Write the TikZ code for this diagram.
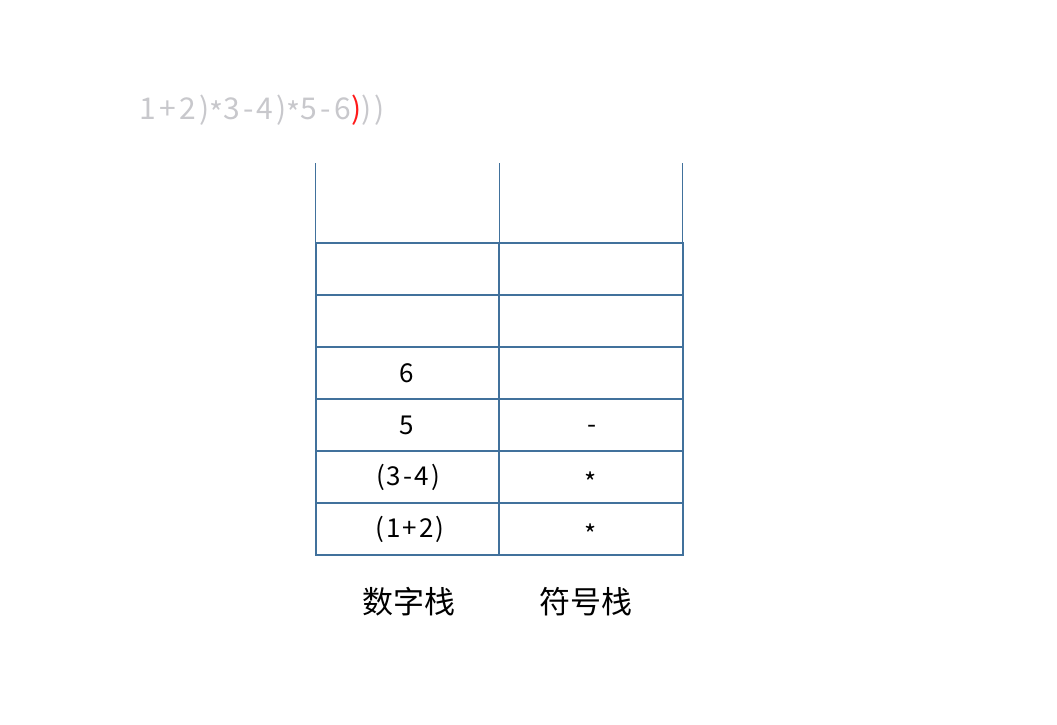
\documentclass[tikz,border=0pt]{standalone}
\usepackage{fontspec}
\setmainfont{Noto Sans CJK SC}
\definecolor{gridblue}{HTML}{41719C}
\definecolor{lightgray}{HTML}{C8C8CC}
\definecolor{redp}{HTML}{FF1A1A}
\newcommand{\lowast}{\raisebox{-5pt}{*}}
\begin{document}
\begin{tikzpicture}[x=1pt,y=-1pt,
  cell/.style={draw=gridblue,line width=1.6pt,outer sep=0pt,minimum width=183.5pt,minimum height=52pt,inner sep=0pt,anchor=center},
  celltext/.style={inner sep=0pt,font=\fontsize{26}{30}\selectfont\addfontfeature{LetterSpace=8}},
  openline/.style={draw=gridblue,line width=1pt},
  lbl/.style={font=\fontsize{31}{34}\selectfont,inner sep=0pt}]
\useasboundingbox (0,0) rectangle (1057,725);
% expression
\node[anchor=base west,inner sep=0pt,text=lightgray,font=\fontsize{30}{33}\selectfont\addfontfeature{LetterSpace=11}] (expr) at (139,119) {1+2)\lowast3-4)\lowast5-6\textcolor{redp}{)}))};
% cells: column 1
\node[cell] (n6) at (407.5,269) {};
\node[cell] (n5) at (407.5,321) {};
\node[cell] (n4) at (407.5,373) {};
\node[cell] (n3) at (407.5,425) {};
\node[cell] (n2) at (407.5,477) {};
\node[cell] (n1) at (407.5,529) {};
% column 2
\node[cell] (s6) at (591,269) {};
\node[cell] (s5) at (591,321) {};
\node[cell] (s4) at (591,373) {};
\node[cell] (s3) at (591,425) {};
\node[cell] (s2) at (591,477) {};
\node[cell] (s1) at (591,529) {};
% cell texts
\node[celltext] (t4) at (407,373) {6};
\node[celltext] (t3) at (407,425) {5};
\node[celltext] (t2) at (408,477) {(3-4)};
\node[celltext] (t1) at (410,529) {(1+2)};
\node[celltext] (u3) at (592,429) {-};
\node[celltext] (u2) at (591,482) {*};
\node[celltext] (u1) at (591,534) {*};
% open top
\coordinate (tl) at ([yshift=80pt]n6.north west);
\coordinate (tm) at ([yshift=80pt]n6.north east);
\coordinate (tr) at ([yshift=80pt]s6.north east);
\draw[openline] (tl) -- (n6.north west);
\draw[openline] (tm) -- (n6.north east);
\draw[openline] (tr) -- (s6.north east);
% labels
\node[lbl] (numlbl) at (409,602) {数字栈};
\node[lbl] (symlbl) at (586,602) {符号栈};
\end{tikzpicture}
\end{document}
